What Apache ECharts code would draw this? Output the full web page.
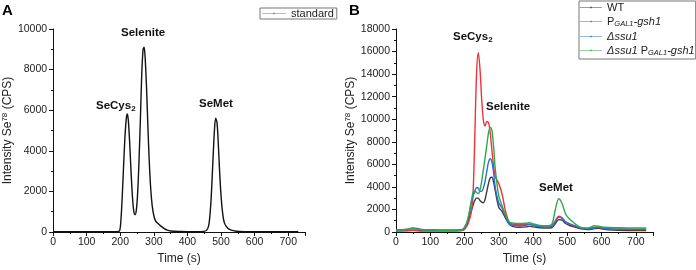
<!DOCTYPE html>
<html>
<head>
<meta charset="utf-8">
<script src="https://cdn.jsdelivr.net/npm/echarts@6.0.0/dist/echarts.min.js"></script>
<style>
  html, body { margin: 0; padding: 0; background: #fff; }
  #main { width: 696px; height: 270px; }
</style>
</head>
<body>
<div id="main"></div>
<script>
// panel A: selenium standard
var timeA = [0, 100, 190, 198, 202, 206, 210, 214, 218, 221, 224, 228, 232, 236, 240, 244, 248, 252, 256, 260,
  264, 268, 271, 274, 278, 282, 286, 290, 295, 300, 305, 310, 320, 330, 340, 350, 380, 420, 450, 460,
  465, 470, 475, 480, 484, 488, 492, 496, 500, 505, 510, 520, 530, 545, 570, 650, 730];
var standard = [20, 20, 20, 60, 600, 1800, 3300, 4700, 5600, 5820, 5500, 4400, 3000, 1800, 1050, 850, 1100, 2000, 3600, 5600,
  7800, 9000, 9100, 8600, 7200, 5300, 3600, 2300, 1300, 800, 550, 450, 300, 180, 90, 50, 30, 20, 30, 150,
  500, 1500, 3200, 4900, 5600, 5400, 4300, 2900, 1800, 900, 450, 180, 90, 40, 20, 15, 10];

// panel B: strains
var timeB = [0, 25, 50, 75, 100, 150, 190, 200, 210, 220, 225, 230, 235, 240, 245, 250, 255, 260, 265, 270,
  275, 280, 285, 290, 300, 310, 320, 330, 340, 360, 380, 390, 400, 420, 440, 455, 465, 475, 485, 495,
  505, 520, 540, 560, 580, 590, 600, 620, 650, 700, 730];
var wt = [100, 120, 150, 110, 100, 100, 120, 250, 900, 1900, 2400, 2800, 3000, 3000, 2800, 2650, 2600, 2900, 3600, 4300,
  4800, 4850, 4400, 3600, 2200, 1800, 1200, 700, 500, 420, 450, 520, 450, 380, 350, 400, 750, 1100, 1050, 750,
  600, 450, 280, 220, 300, 330, 280, 200, 150, 130, 130];
var gal1Gsh1 = [100, 100, 150, 100, 100, 100, 120, 250, 700, 1800, 3500, 8500, 14000, 15900, 14500, 11800, 9900, 9400, 9800, 9700,
  8800, 7200, 5800, 4900, 4300, 3300, 1800, 900, 700, 650, 650, 700, 600, 500, 450, 550, 1000, 1400, 1250, 900,
  750, 550, 350, 300, 400, 420, 350, 280, 250, 220, 220];
var ssu1 = [200, 220, 350, 230, 200, 180, 200, 400, 1100, 2600, 3200, 3600, 3950, 3900, 3600, 3600, 3900, 4500, 5400, 6200,
  6500, 6200, 5200, 3900, 2600, 2100, 1400, 750, 600, 550, 600, 680, 580, 480, 450, 500, 900, 1300, 1200, 900,
  750, 580, 350, 300, 380, 420, 380, 300, 260, 250, 250];
var ssu1Gal1Gsh1 = [150, 200, 300, 200, 180, 160, 180, 400, 1200, 2800, 3500, 3650, 3500, 3400, 3700, 4500, 5500, 6600, 7700, 8800,
  9300, 9000, 7500, 5500, 3200, 2300, 1500, 900, 800, 750, 780, 820, 720, 580, 550, 700, 2000, 2950, 2500, 1600,
  1200, 800, 400, 350, 550, 520, 450, 400, 380, 360, 350];

var namesB = ['WT', 'PGAL1-gsh1', 'Δssu1', 'Δssu1 PGAL1-gsh1'];
var colorsB = ['#3b3b3b', '#f2313c', '#2c6fdf', '#2ea84c'];
var valuesB = [wt, gal1Gsh1, ssu1, ssu1Gal1Gsh1];

function pairs(xs, ys) {
  var out = [];
  for (var i = 0; i < xs.length; i++) out.push([xs[i], ys[i]]);
  return out;
}

// thin line with a small dot, like the Origin legend
var lineIcon = 'path://M0,4.6H26V5.4H0Z M12.2,4.2H13.8V5.8H12.2Z';

var font = 'Liberation Sans, Arial, sans-serif';
var legendRich = {
  n: { fontSize: 11, fontFamily: font, color: '#222', lineHeight: 13 },
  i: { fontSize: 11, fontFamily: font, fontStyle: 'italic', color: '#222', lineHeight: 13 },
  s: { fontSize: 7.5, fontFamily: font, fontStyle: 'italic', color: '#222', verticalAlign: 'bottom', padding: [5, 0, 0, 0] }
};
var legendLabels = {
  'WT': '{n|WT}',
  'PGAL1-gsh1': '{n|P}{s|GAL1}{i|-gsh1}',
  'Δssu1': '{i|Δssu1}',
  'Δssu1 PGAL1-gsh1': '{i|Δssu1} {n|P}{s|GAL1}{i|-gsh1}'
};

function xAxisOpt(idx) {
  return {
    type: 'value', gridIndex: idx, min: 0, max: 750, interval: 100,
    name: 'Time (s)', nameLocation: 'middle', nameGap: 21,
    nameTextStyle: { fontSize: 12, fontFamily: font, color: '#222' },
    axisLine: { onZero: false, lineStyle: { color: '#111', width: 1 } },
    axisTick: { inside: false, length: 4, lineStyle: { color: '#111' } },
    minorTick: { show: true, splitNumber: 2, length: 2, lineStyle: { color: '#111' } },
    axisLabel: { fontSize: 10.5, fontFamily: font, color: '#222', margin: 5,
      formatter: function (v) { return v > 700 ? '' : String(v); } },
    splitLine: { show: false }
  };
}
function yAxisOpt(idx, max) {
  return {
    type: 'value', gridIndex: idx, min: 0, max: max, interval: 2000,
    name: '{a|Intensity Se}{sup|78}{a| (CPS)}', nameLocation: 'middle', nameGap: 34, nameRotate: 90,
    nameTextStyle: { rich: {
      a: { fontSize: 12, fontFamily: font, color: '#222' },
      sup: { fontSize: 8, fontFamily: font, color: '#222', verticalAlign: 'top', padding: [0, 0, 6, 0] }
    } },
    axisLine: { show: true, lineStyle: { color: '#111', width: 1 } },
    axisTick: { inside: false, length: 4, lineStyle: { color: '#111' } },
    minorTick: { show: true, splitNumber: 2, length: 2, lineStyle: { color: '#111' } },
    axisLabel: { fontSize: 10.5, fontFamily: font, color: '#222', margin: 6,
      formatter: function (v) { return String(v); } },
    splitLine: { show: false }
  };
}

var series = [{
  name: 'standard', type: 'line', xAxisIndex: 0, yAxisIndex: 0,
  data: pairs(timeA, standard), smooth: 0.3, symbol: 'none',
  lineStyle: { color: '#111', width: 1.4 }, itemStyle: { color: '#777' }
}];
for (var k = 0; k < namesB.length; k++) {
  series.push({
    name: namesB[k], type: 'line', xAxisIndex: 1, yAxisIndex: 1,
    data: pairs(timeB, valuesB[k]), smooth: 0.3, symbol: 'none',
    lineStyle: { color: colorsB[k], width: 1.4 }, itemStyle: { color: colorsB[k] }
  });
}

var peakRich = {
  b: { fontSize: 11.5, fontWeight: 'bold', fontFamily: font, fill: '#111', color: '#111' },
  s: { fontSize: 8, fontWeight: 'bold', fontFamily: font, fill: '#111', color: '#111', padding: [5, 0, 0, 0] }
};
function peakLabel(x, y, txt) {
  return { type: 'text', left: x, top: y, style: { text: txt, rich: peakRich, fill: '#111' } };
}

var myChart = echarts.init(document.getElementById('main'), null, { renderer: 'canvas' });
var option = {
  animation: false,
  backgroundColor: '#fff',
  grid: [
    { left: 48, right: 391, top: 29, bottom: 34 },
    { left: 396, right: 43, top: 29, bottom: 35 }
  ],
  xAxis: [xAxisOpt(0), xAxisOpt(1)],
  yAxis: [yAxisOpt(0, 10000), yAxisOpt(1, 18000)],
  legend: [{
    data: ['standard'], left: 260, top: 8, orient: 'vertical',
    icon: lineIcon,
    borderColor: '#777', borderWidth: 1, borderRadius: 0, padding: [0, 3, 0, 2],
    itemWidth: 24, itemHeight: 10, itemGap: 2,
    textStyle: { fontSize: 11, fontFamily: font, color: '#222' }
  }, {
    data: namesB, left: 579, top: 1, orient: 'vertical',
    icon: lineIcon,
    borderColor: '#777', borderWidth: 1, borderRadius: 0, padding: [1, 1, 2, 1],
    itemWidth: 22, itemHeight: 10, itemGap: 3,
    formatter: function (name) { return legendLabels[name]; },
    textStyle: { fontSize: 11, fontFamily: font, color: '#222', rich: legendRich }
  }],
  graphic: [
    { type: 'text', left: 2, top: 3, style: { text: 'A', font: 'bold 15px ' + font, fill: '#000' } },
    { type: 'text', left: 349, top: 3, style: { text: 'B', font: 'bold 15px ' + font, fill: '#000' } },
    peakLabel(96, 100, '{b|SeCys}{s|2}'),
    peakLabel(121, 27, '{b|Selenite}'),
    peakLabel(199, 98, '{b|SeMet}'),
    peakLabel(453, 31, '{b|SeCys}{s|2}'),
    peakLabel(486, 101, '{b|Selenite}'),
    peakLabel(539, 182, '{b|SeMet}')
  ],
  series: series
};
myChart.setOption(option);
</script>
</body>
</html>
